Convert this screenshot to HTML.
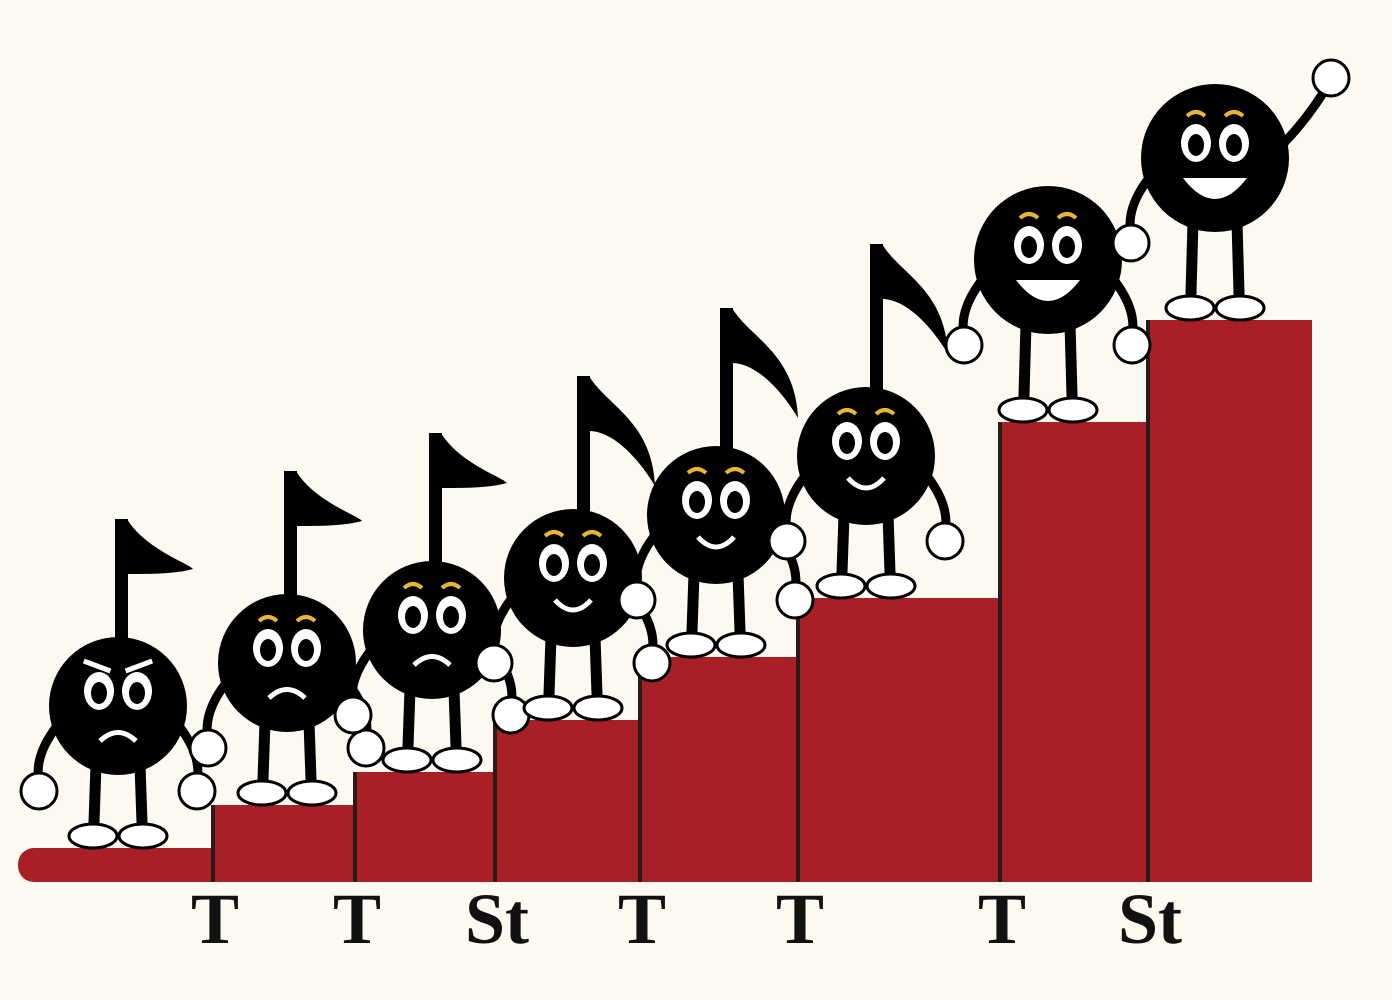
<!DOCTYPE html>
<html><head><meta charset="utf-8"><style>
html,body{margin:0;padding:0;background:#fdf9f1;}
svg{display:block}
</style></head><body>
<svg id="c" width="1392" height="1000" viewBox="0 0 1392 1000">
<rect width="1392" height="1000" fill="#fdf9f1"/>
<g id="steps"></g><g id="figs"></g><g id="labels"></g>
</svg>
<script>
const stepLabels = ["T","T","St","T","T","T","St"];
const stepHeights = [77,110,162,225,284,460,562];
const baseHeight = 34;
const stepEdges = [213,355,495,640,798,1000,1148,1312];
const moods = [-2,-1,-1,1,1,1,2,2];

const NS="http://www.w3.org/2000/svg";
const baseY=882;
function y(v){return baseY-v;}
function mk(tag,attrs,parent){const e=document.createElementNS(NS,tag);for(const k in attrs)e.setAttribute(k,attrs[k]);parent.appendChild(e);return e;}
const steps=document.getElementById('steps'),figs=document.getElementById('figs'),labels=document.getElementById('labels');
const RED="#a81f26";
let b=mk('rect',{x:18,y:y(baseHeight),width:1294,height:baseHeight,rx:16,fill:RED},steps);


stepHeights.forEach((h,i)=>{
  const x0=stepEdges[i],x1=stepEdges[i+1];
  const r=mk('rect',{x:x0,y:y(h),width:x1-x0,height:h,fill:RED},steps);
  
  
  const l=mk('line',{x1:x0,y1:y(h),x2:x0,y2:baseY,stroke:'#2a1a1a','stroke-width':4},steps);
  
  
  const t=mk('text',{x:x0+2,y:943,'text-anchor':'middle','font-family':'Liberation Serif, serif','font-size':72,'font-weight':'bold',fill:'#111'},labels);
  t.textContent=stepLabels[i];
  
  
});
const standH=[baseHeight].concat(stepHeights);
const figX=[118,287,432,573,716,866,1048,1215];
figX.forEach((cx,i)=>{
  const g=mk('g',{},figs);
  
  
  const footY=y(standH[i])-12;
  const big=i>=6;
  const r=big?74:69;
  const cy=footY-(big?150:130);
  if(!big){
    const sx=cx+(i<3?-3:4), top=cy-r-118-i*5;
    mk('rect',{x:sx,y:top,width:13,height:cy-top,fill:'#000'},g);
    mk('path',{d:`M${sx+12} ${top} C${sx+30} ${top+30} ${sx+75} ${top+45} ${sx+78} ${top+(i>=3?110:50)} C${sx+60} ${top+(i>=3?80:55)} ${sx+35} ${top+55} ${sx+12} ${top+55} Z`,fill:'#000'},g);
  }
  [-22,22].forEach(d=>mk('path',{d:`M${cx+d} ${cy+r-10} L${cx+d*1.1} ${footY-8}`,stroke:'#000','stroke-width':11,fill:'none'},g));
  mk('path',{d:`M${cx-r+8} ${cy+20} Q${cx-r-15} ${cy+50} ${cx-r-10} ${cy+75}`,stroke:'#000','stroke-width':9,fill:'none'},g);
  if(i===7){
    mk('path',{d:`M${cx+r-10} ${cy-10} Q${cx+r+20} ${cy-40} ${cx+r+40} ${cy-75}`,stroke:'#000','stroke-width':9,fill:'none'},g);
    mk('circle',{cx:cx+r+42,cy:cy-80,r:18,fill:'#fff',stroke:'#000','stroke-width':3},g);
  } else {
    mk('path',{d:`M${cx+r-8} ${cy+20} Q${cx+r+15} ${cy+50} ${cx+r+10} ${cy+75}`,stroke:'#000','stroke-width':9,fill:'none'},g);
    mk('circle',{cx:cx+r+10,cy:cy+85,r:18,fill:'#fff',stroke:'#000','stroke-width':3},g);
  }
  mk('circle',{cx:cx-r-10,cy:cy+85,r:18,fill:'#fff',stroke:'#000','stroke-width':3},g);
  mk('circle',{cx:cx,cy:cy,r:r,fill:'#000'},g);
  [-25,25].forEach(d=>mk('ellipse',{cx:cx+d,cy:footY,rx:24,ry:12,fill:'#fff',stroke:'#000','stroke-width':3},g));
  [-19,19].forEach(d=>{
    mk('ellipse',{cx:cx+d,cy:cy-15,rx:15,ry:19,fill:'#fff'},g);
    mk('ellipse',{cx:cx+d,cy:cy-13,rx:8,ry:11,fill:'#000'},g);
    if(moods[i]>-2) mk('path',{d:`M${cx+d-9} ${cy-42} Q${cx+d} ${cy-50} ${cx+d+9} ${cy-42}`,stroke:'#e8b632','stroke-width':4,fill:'none'},g);
    else mk('path',{d:`M${cx+d*1.8} ${cy-45} L${cx+d*0.4} ${cy-35}`,stroke:'#fff','stroke-width':5},g);
  });
  const m=moods[i];
  if(m<0) mk('path',{d:`M${cx-18} ${cy+35} Q${cx} ${cy+18} ${cx+18} ${cy+35}`,stroke:'#fff','stroke-width':5,fill:'none'},g);
  else if(m===1) mk('path',{d:`M${cx-18} ${cy+22} Q${cx} ${cy+42} ${cx+18} ${cy+22}`,stroke:'#fff','stroke-width':5,fill:'none'},g);
  else mk('path',{d:`M${cx-32} ${cy+20} Q${cx} ${cy+62} ${cx+32} ${cy+20} Z`,fill:'#fff'},g);
});
</script>
</body></html>
